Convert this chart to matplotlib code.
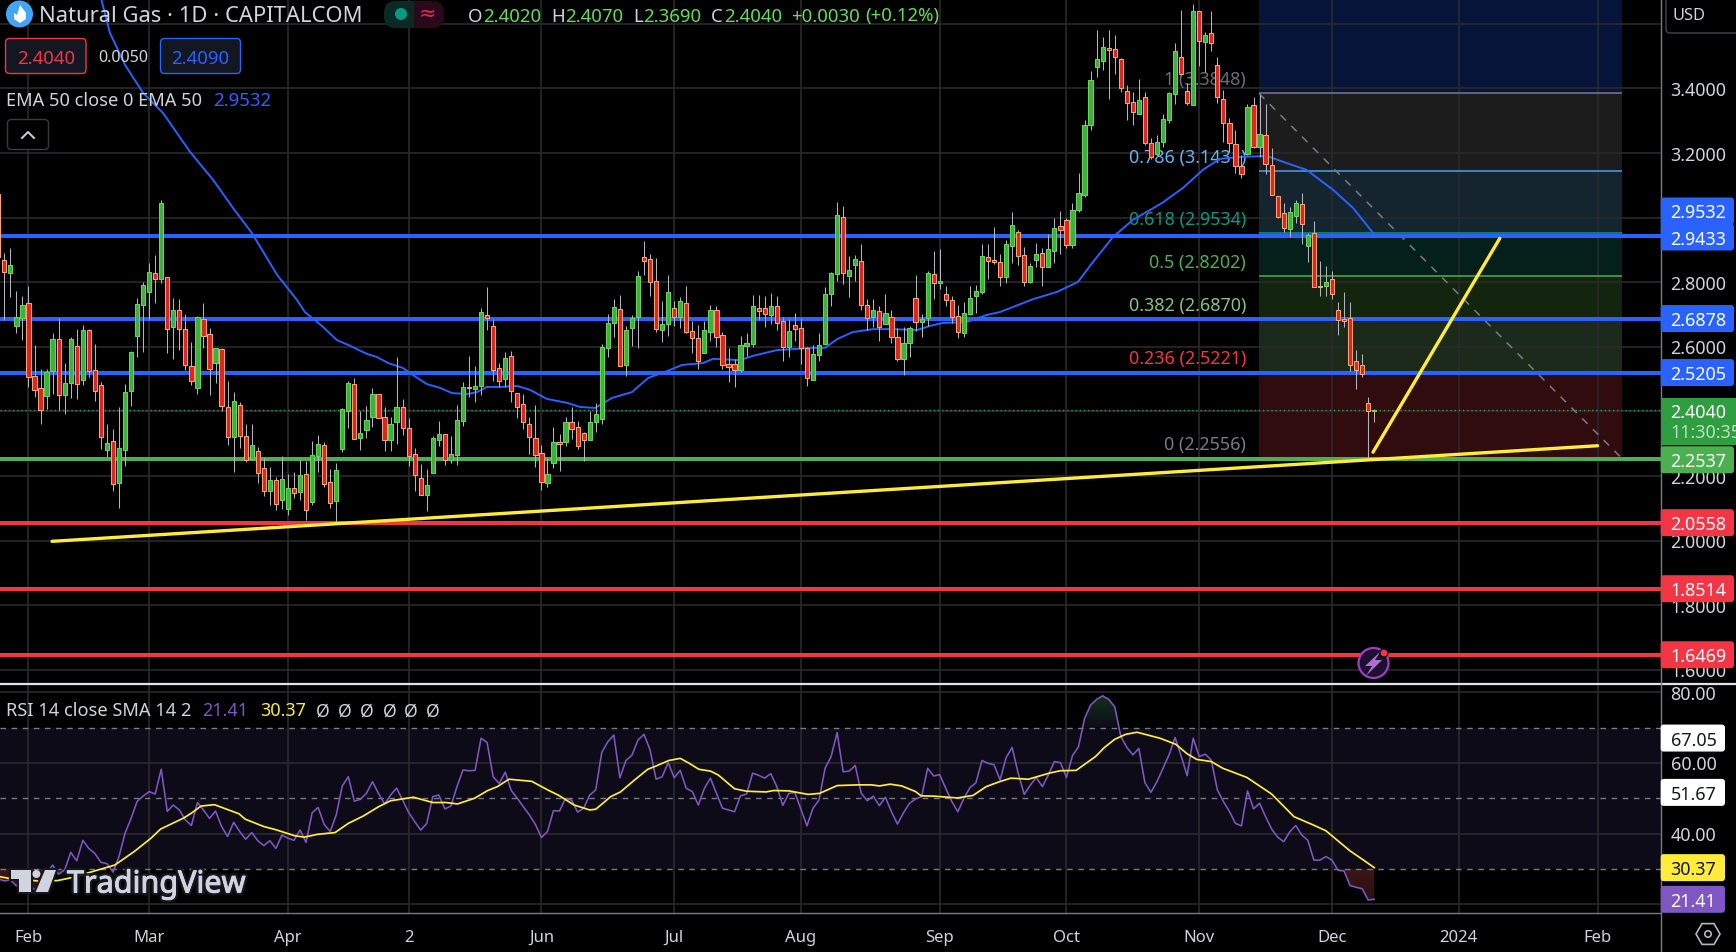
import numpy as np
import matplotlib
matplotlib.use("Agg")
import matplotlib.pyplot as plt
from matplotlib.patches import FancyBboxPatch, Circle, Polygon, Rectangle
import matplotlib.patheffects as pe

plt.rcParams['font.family'] = ['Noto Sans', 'DejaVu Sans']

# candles, one value per bar
opens = [3.073,
 2.868,2.830,2.666,2.688,2.735,2.509,2.472,2.449,2.526,2.624,
 2.452,2.489,2.602,2.496,2.651,2.528,2.481,2.282,2.308,2.180,
 2.282,2.462,2.635,2.731,2.771,2.828,2.809,2.816,2.663,2.713,
 2.655,2.540,2.474,2.686,2.639,2.551,2.593,2.413,2.322,2.419,
 2.323,2.254,2.277,2.224,2.155,2.187,2.127,2.099,2.162,2.152,
 2.206,2.121,2.263,2.295,2.181,2.124,2.285,2.400,2.484,2.319,
 2.344,2.384,2.453,2.382,2.313,2.366,2.413,2.348,2.268,2.193,
 2.143,2.211,2.313,2.330,2.251,2.266,2.372,2.476,2.470,2.480,
 2.698,2.664,2.534,2.500,2.571,2.457,2.422,2.361,2.317,2.271,
 2.180,2.242,2.305,2.304,2.367,2.351,2.333,2.313,2.366,2.378,
 2.598,2.675,2.717,2.545,2.657,2.694,2.878,2.871,2.803,2.651,
 2.672,2.720,2.694,2.735,2.648,2.627,2.582,2.647,2.713,2.636,
 2.546,2.546,2.527,2.604,2.610,2.720,2.720,2.700,2.726,2.679,
 2.601,2.667,2.658,2.596,2.499,2.576,2.610,2.765,2.825,3.001,
 2.821,2.852,2.865,2.729,2.692,2.710,2.672,2.692,2.630,2.564,
 2.613,2.751,2.678,2.691,2.825,2.797,2.763,2.744,2.695,2.644,
 2.703,2.759,2.771,2.878,2.868,2.862,2.817,2.913,2.955,2.883,
 2.801,2.869,2.890,2.848,2.898,2.973,2.992,2.917,3.025,3.071,
 3.286,3.468,3.486,3.524,3.521,3.490,3.391,3.357,3.322,3.373,
 3.230,3.198,3.235,3.304,3.384,3.496,3.391,3.350,3.639,3.545,
 3.571,3.472,3.366,3.292,3.227,3.159,3.196,3.348,3.220,3.255,
 3.162,3.066,3.014,2.966,3.006,3.041,2.913,2.952,2.790,2.790,
 2.809,2.713,2.686,2.689,2.556,2.543,2.425,2.402]
closes = [2.878,
 2.833,2.853,2.692,2.729,2.508,2.465,2.406,2.521,2.624,2.452,
 2.487,2.624,2.486,2.651,2.524,2.462,2.322,2.302,2.174,2.286,
 2.460,2.583,2.732,2.791,2.831,2.811,3.045,2.655,2.713,2.654,
 2.545,2.493,2.693,2.635,2.533,2.596,2.418,2.322,2.432,2.325,
 2.251,2.295,2.211,2.155,2.187,2.115,2.190,2.162,2.147,2.203,
 2.096,2.264,2.299,2.174,2.118,2.218,2.407,2.487,2.316,2.333,
 2.373,2.453,2.381,2.313,2.360,2.413,2.350,2.263,2.202,2.143,
 2.172,2.317,2.330,2.251,2.268,2.373,2.475,2.473,2.478,2.707,
 2.688,2.530,2.493,2.565,2.462,2.415,2.367,2.322,2.264,2.181,
 2.206,2.305,2.299,2.367,2.347,2.294,2.313,2.367,2.392,2.599,
 2.673,2.723,2.542,2.652,2.689,2.819,2.867,2.802,2.654,2.670,
 2.769,2.694,2.741,2.647,2.629,2.555,2.652,2.713,2.632,2.545,
 2.539,2.527,2.605,2.611,2.726,2.712,2.702,2.726,2.675,2.599,
 2.648,2.654,2.598,2.505,2.577,2.605,2.763,2.828,3.008,2.830,
 2.837,2.871,2.731,2.688,2.713,2.663,2.704,2.630,2.561,2.611,
 2.658,2.678,2.686,2.828,2.797,2.803,2.746,2.694,2.647,2.704,
 2.751,2.772,2.881,2.867,2.864,2.815,2.918,2.976,2.882,2.802,
 2.849,2.887,2.848,2.902,2.967,2.963,2.917,3.023,3.075,3.286,
 3.425,3.490,3.527,3.518,3.496,3.401,3.354,3.328,3.363,3.230,
 3.187,3.233,3.305,3.385,3.515,3.444,3.356,3.639,3.548,3.565,
 3.540,3.373,3.294,3.232,3.159,3.136,3.342,3.220,3.258,3.165,
 3.071,3.003,2.969,3.017,3.044,2.979,2.945,2.784,2.784,2.800,
 2.765,2.684,2.679,2.545,2.530,2.517,2.400,2.404]
highs = [3.090,
 2.890,2.905,2.773,2.757,2.789,2.606,2.532,2.532,2.642,2.690,
 2.549,2.632,2.655,2.667,2.655,2.609,2.490,2.361,2.345,2.413,
 2.484,2.586,2.752,2.801,2.859,2.885,3.055,2.816,2.752,2.748,
 2.701,2.614,2.696,2.735,2.659,2.598,2.596,2.494,2.460,2.430,
 2.361,2.361,2.291,2.257,2.229,2.196,2.262,2.207,2.214,2.250,
 2.247,2.308,2.327,2.306,2.222,2.241,2.411,2.494,2.504,2.403,
 2.417,2.473,2.453,2.415,2.384,2.568,2.439,2.379,2.288,2.238,
 2.222,2.324,2.371,2.330,2.324,2.420,2.491,2.572,2.541,2.721,
 2.785,2.686,2.549,2.585,2.587,2.457,2.454,2.383,2.419,2.296,
 2.255,2.352,2.330,2.382,2.414,2.371,2.336,2.400,2.426,2.609,
 2.701,2.748,2.760,2.665,2.699,2.834,2.928,2.888,2.874,2.742,
 2.822,2.742,2.755,2.788,2.680,2.668,2.680,2.730,2.727,2.645,
 2.597,2.562,2.634,2.643,2.760,2.760,2.758,2.766,2.758,2.693,
 2.686,2.704,2.689,2.600,2.606,2.643,2.786,2.832,3.049,3.035,
 2.882,2.885,2.918,2.749,2.749,2.727,2.764,2.715,2.657,2.662,
 2.666,2.823,2.701,2.835,2.897,2.902,2.789,2.758,2.729,2.738,
 2.788,2.791,2.919,2.918,2.971,2.888,2.931,3.018,2.962,2.910,
 2.859,2.921,2.905,2.949,2.998,3.021,2.998,3.044,3.138,3.302,
 3.454,3.581,3.560,3.581,3.566,3.495,3.411,3.388,3.428,3.388,
 3.246,3.256,3.320,3.390,3.540,3.643,3.416,3.661,3.639,3.574,
 3.639,3.499,3.395,3.309,3.272,3.194,3.351,3.374,3.381,3.352,
 3.215,3.066,3.044,3.032,3.055,3.076,2.952,2.990,2.866,2.851,
 2.835,2.738,2.770,2.739,2.591,2.578,2.445,2.407]
lows = [2.860,
 2.683,2.753,2.644,2.622,2.477,2.446,2.361,2.408,2.454,2.405,
 2.393,2.442,2.439,2.482,2.508,2.433,2.285,2.258,2.155,2.102,
 2.232,2.418,2.570,2.584,2.683,2.737,2.799,2.582,2.564,2.589,
 2.529,2.482,2.454,2.598,2.451,2.489,2.400,2.296,2.213,2.286,
 2.244,2.250,2.178,2.138,2.109,2.095,2.097,2.080,2.133,2.126,
 2.064,2.109,2.213,2.167,2.101,2.059,2.276,2.349,2.316,2.281,
 2.318,2.352,2.379,2.278,2.278,2.300,2.327,2.232,2.154,2.140,
 2.092,2.209,2.293,2.235,2.242,2.235,2.355,2.446,2.430,2.451,
 2.653,2.495,2.477,2.477,2.428,2.381,2.347,2.269,2.229,2.157,
 2.167,2.225,2.217,2.294,2.315,2.285,2.248,2.312,2.338,2.362,
 2.570,2.632,2.542,2.511,2.603,2.598,2.823,2.759,2.647,2.615,
 2.635,2.666,2.659,2.644,2.581,2.532,2.582,2.619,2.601,2.531,
 2.490,2.477,2.523,2.572,2.601,2.684,2.663,2.670,2.651,2.555,
 2.570,2.619,2.548,2.480,2.496,2.557,2.610,2.728,2.804,2.795,
 2.755,2.804,2.715,2.653,2.663,2.619,2.670,2.612,2.555,2.514,
 2.569,2.649,2.632,2.665,2.749,2.780,2.727,2.673,2.626,2.631,
 2.699,2.704,2.764,2.810,2.858,2.787,2.799,2.859,2.854,2.789,
 2.797,2.848,2.790,2.848,2.859,2.888,2.905,2.905,3.019,3.065,
 3.272,3.436,3.457,3.367,3.446,3.388,3.302,3.287,3.322,3.225,
 3.181,3.196,3.220,3.294,3.352,3.442,3.348,3.348,3.470,3.452,
 3.517,3.356,3.233,3.204,3.137,3.124,3.194,3.215,3.189,3.134,
 3.070,2.998,2.956,2.939,2.985,2.918,2.863,2.784,2.759,2.759,
 2.749,2.637,2.663,2.526,2.471,2.508,2.254,2.369]

# EMA 50, read at the bends of the line
ema_bar = [17.1,18.5,21,24,27.3,31.8,35.6,38.9,42,46.2,49.5,50.8,53.8,56.1,58,61.1,62.7,64.6,67,68.7,71,73.2,
           75.2,77.7,79.3,81,83.1,86,88.1,90.9,94.4,96.4,98.9,101.7,105,107.7,110.8,113.3,116.8,118.4,122.9,
           125,129,135,137,139,141.6,145,148.2,152.2,154.4,156.5,160.5,163.8,166,171.5,175.4,178.9,181.4,184.7,
           188,192.8,196.3,199.6,202.4,205.8,210.2,213.5,216.8,221.2,224.5,227.8]
ema_val = [3.674,3.572,3.473,3.386,3.324,3.203,3.117,3.030,2.953,2.823,2.745,2.708,2.662,2.621,2.606,2.578,2.569,
           2.550,2.535,2.513,2.485,2.473,2.457,2.454,2.460,2.476,2.476,2.479,2.467,2.439,2.426,2.414,2.411,2.442,
           2.460,2.504,2.525,2.544,2.550,2.563,2.559,2.572,2.590,2.597,2.597,2.624,2.646,2.655,2.655,2.652,2.665,
           2.674,2.677,2.699,2.708,2.748,2.770,2.801,2.863,2.940,2.993,3.045,3.092,3.148,3.182,3.188,3.191,3.169,
           3.148,3.086,3.030,2.953]

rsi = [27.2,26.6,26.9,25.2,26.9,25.9,24.1,25.9,28.8,31.1,28.5,29.7,34.7,32.3,38.1,35.8,34.4,31.9,31.5,29.1,
       33.5,40.1,44.3,49.1,50.6,51.9,51.2,58.2,46.3,48.1,46.7,43.9,42.3,48.8,46.7,44.3,46.4,42.0,39.2,43.2,
       40.6,38.4,40.3,38.0,36.6,38.0,35.8,39.6,38.7,38.1,41.0,37.5,45.9,47.4,42.6,40.6,45.3,53.5,56.1,49.2,
       49.7,51.4,54.7,51.4,48.4,50.9,52.9,49.5,46.0,43.4,41.0,42.9,50.5,50.9,47.0,47.8,53.3,58.0,57.8,57.9,
       67.0,65.8,56.1,54.2,57.4,52.2,50.0,47.6,45.3,42.6,38.9,40.6,46.5,46.4,50.0,49.5,46.1,47.2,50.9,52.4,
       63.0,66.0,67.9,55.8,60.7,62.2,66.5,68.1,63.7,55.4,56.1,60.1,55.8,57.9,52.8,51.9,48.1,52.8,55.7,51.4,
       47.2,46.7,46.2,50.7,51.2,57.1,56.5,55.7,57.0,53.3,48.0,51.4,51.6,46.9,42.2,47.2,49.5,58.5,61.8,68.6,
       57.5,57.7,59.3,51.4,49.3,50.6,47.9,50.3,46.2,42.7,45.9,48.6,49.8,50.5,58.5,56.3,56.7,52.8,49.1,46.2,
       50.0,53.0,54.4,60.7,59.9,59.5,55.2,61.5,64.4,57.1,51.1,53.7,55.9,53.3,56.6,60.4,60.1,55.9,62.1,64.6,
       72.6,76.4,78.0,79.0,78.0,75.9,67.6,64.4,62.3,64.1,54.4,51.7,54.7,58.5,62.3,67.2,62.0,56.4,67.0,61.8,
       62.5,60.8,52.4,49.1,46.3,42.9,42.2,52.1,47.0,48.6,44.8,41.3,39.0,37.7,40.5,42.3,39.6,38.1,32.5,32.5,
       33.5,32.5,29.6,29.4,25.3,24.8,24.4,21.2,21.41]

rsi_ma_bar = [0.3,2.2,6.6,9.8,12.3,15.5,19.3,22.5,25.3,26.9,30.7,32,33.6,35.8,39.9,40.9,44,46,49.1,50.7,52.9,55.8,
              58,60.5,63,65,68.8,72,74.2,76.1,78.9,81.1,82.7,84.6,88.4,91,92.9,95.4,98,99,101.5,103.1,105.3,107.6,
              108.8,111.1,113,114.5,116.1,118,119.3,122,124,127.2,128.5,131,134.2,136.1,139,142.4,144.7,146,147.8,
              149.7,152,152.9,155.1,158.9,161.5,163.7,165.9,167.8,170.7,174.1,176,178.6,181.8,183.3,185,186.8,188.7,
              192.5,195.1,197,198.6,201,202.9,206.9,211,214.7,218.1,220,224,226.4,228]
rsi_ma_val = [27.8,27.2,26.6,26.7,27.6,29.2,31.1,34.9,38.7,41.3,44.4,45.8,47.8,48.2,45.6,44.1,42,41.1,39.4,39.0,39.8,
              40.3,42.9,45,47.6,49.3,50.3,48.8,48.8,48.4,50,52.2,53.3,55.4,54.8,52.4,50.8,48.1,46.7,46.9,50.5,51.8,
              55,58.2,59,60.7,61.3,59.9,58.2,57.7,56.6,52.7,52,51.8,52.2,52.1,51.1,51.4,53.6,53.8,53.8,53.5,54,53.5,
              51.9,50.7,50.6,50.1,50.8,53.3,54.7,55.7,55.4,57.1,57.8,57.9,61.8,64.4,66.7,68.1,68.7,67,65.3,62.6,61,
              60.4,58.5,55.9,51.2,44.8,42.3,40.8,35.1,32.3,30.37]

time_bars = [5,25,48,68,90,112,133,156,177,199,221,242,265]
time_labels = ['Feb','Mar','Apr','2','Jun','Jul','Aug','Sep','Oct','Nov','Dec','2024','Feb']
price_ticks = [3.6,3.4,3.2,3.0,2.8,2.6,2.4,2.2,2.0,1.8,1.6]
shown_price_ticks = [3.4,3.2,2.8,2.6,2.2,2.0,1.8,1.6]
rsi_ticks = [80,60,40,20]
shown_rsi_ticks = [80,60,40]

blue_levels = [2.9433,2.6878,2.5205]
green_levels = [2.2537]
red_levels = [2.0558,1.8514,1.6469]
last_price = 2.4040

fib_ratio = ['1','0.786','0.618','0.5','0.382','0.236','0']
fib_price = [3.3848,3.1431,2.9534,2.8202,2.6870,2.5221,2.2556]
fib_line_col = ['#787b86','#4f9fe8','#089981','#4caf50','#81c784','#f23645','#787b86']
fib_text_col = ['#6b6e78','#64b5f6','#089981','#4caf50','#81c784','#f23645','#787b86']
fib_fill = ['#1c1c1c','#15252f','#05201a','#13240f','#1c2a1c','#300c0f']
fib_start, fib_end = 208.9, 269

trend_bars = [8.9,265]
trend_vals = [1.998,2.294]
swing_bars = [227.8,248.8]
swing_vals = [2.274,2.936]

W, H = 1736, 952
AX_R = 1660.7
GRID = '#2a2a2c'
TXT = '#d1d4dc'
BLUE = '#2962ff'

fig = plt.figure(figsize=(W/100, H/100), dpi=100, facecolor='black')
ax = fig.add_axes([0, 1-683/H, AX_R/W, 683/H], facecolor='black')
ax2 = fig.add_axes([0, 1-913/H, AX_R/W, 228/H], facecolor='black')
over = fig.add_axes([0, 0, 1, 1], zorder=10)
over.set_xlim(0, W)
over.set_ylim(H, 0)
over.axis('off')

xlim = (0.282, 275.47)
ax.set_xlim(*xlim)
ax.set_ylim(1.5594, 3.674)
ax2.set_xlim(*xlim)
ax2.set_ylim(17.53, 82.07)
for a in (ax, ax2):
    a.axis('off')

# grid
ax.hlines(price_ticks, *xlim, color=GRID, lw=1.2, zorder=1)
ax.vlines(time_bars, 1.5594, 3.674, color=GRID, lw=1.2, zorder=1)
ax2.hlines(rsi_ticks, *xlim, color=GRID, lw=1.2, zorder=1)
ax2.vlines(time_bars, 17.53, 82.07, color=GRID, lw=1.2, zorder=1)

# fib retracement box
ax.fill_between([fib_start, fib_end], fib_price[0], 3.674, color='#051438', lw=0, zorder=0.5)
for i in range(6):
    ax.fill_between([fib_start, fib_end], fib_price[i+1], fib_price[i], color=fib_fill[i], lw=0, zorder=0.5)
for i in range(7):
    ax.hlines(fib_price[i], fib_start, fib_end, color=fib_line_col[i], lw=1.1, zorder=1.2)
    ax.annotate('%s (%.4f)' % (fib_ratio[i], fib_price[i]), xy=(fib_start, fib_price[i]), xytext=(-13, 13),
                textcoords='offset pixels', ha='right', va='center', color=fib_text_col[i], fontsize=12.9, zorder=1.5)
ax.plot([fib_start, fib_end], [fib_price[0], fib_price[-1]], color='#787b86', lw=1.1, ls=(0, (5, 5)), zorder=1.3)

ax.hlines(last_price, *xlim, color='#2e9e40', lw=1, ls=(0, (1, 2)), zorder=2)
ax.hlines(blue_levels, *xlim, color=BLUE, lw=2.9, zorder=2.2)
ax.hlines(green_levels, *xlim, color='#4caf50', lw=2.9, zorder=2.2)
ax.hlines(red_levels, *xlim, color='#f23645', lw=2.9, zorder=2.2)
ax.plot(ema_bar, ema_val, color=BLUE, lw=1.4, zorder=2.5)

# candles
bars = np.arange(len(opens))
o = np.array(opens)
c = np.array(closes)
up = c >= o
ax.vlines(bars, lows, highs, color='#b2b5be', lw=0.75, zorder=3)
ax.bar(bars[up], np.maximum(c-o, 0.004)[up], bottom=o[up], width=0.7, color='#3db13c', edgecolor='#69d45c', lw=0.75, zorder=4)
ax.bar(bars[~up], np.maximum(o-c, 0.004)[~up], bottom=c[~up], width=0.7, color='#e0241c', edgecolor='#f9a478', lw=0.75, zorder=4)

# yellow trendlines
ax.plot(trend_bars, trend_vals, color='#ffeb3b', lw=2.4, solid_capstyle='round', zorder=5)
ax.plot(swing_bars, swing_vals, color='#ffeb3b', lw=2.4, solid_capstyle='round', zorder=5)

# rsi pane
ax2.fill_between(xlim, 30, 70, color='#0d0b17', lw=0, zorder=0.5)
ax2.hlines([70, 50, 30], *xlim, color='#787b86', lw=1, ls=(0, (4, 4)), zorder=1.5)
rsi_bars = np.arange(len(rsi))
rsi_arr = np.array(rsi)

grad = np.linspace(0, 1, 64).reshape(-1, 1)
hi_cmap = matplotlib.colors.LinearSegmentedColormap.from_list('g', ['#0d0b17', '#14351a'])
lo_cmap = matplotlib.colors.LinearSegmentedColormap.from_list('r', ['#2c0e0e', '#3c1616'])
hi_fill = ax2.fill_between(rsi_bars, 70, rsi_arr, where=rsi_arr >= 70, interpolate=True, color='none', lw=0)
for path in hi_fill.get_paths():
    im = ax2.imshow(grad, extent=(0, 229, 70, 80), origin='lower', aspect='auto', zorder=1.2, vmin=0, vmax=1, cmap=hi_cmap)
    im.set_clip_path(path, transform=ax2.transData)
lo_fill = ax2.fill_between(rsi_bars, 30, rsi_arr, where=rsi_arr <= 30, interpolate=True, color='none', lw=0)
for path in lo_fill.get_paths():
    im = ax2.imshow(grad, extent=(0, 229, 20, 30), origin='lower', aspect='auto', zorder=1.2, vmin=0, vmax=1, cmap=lo_cmap)
    im.set_clip_path(path, transform=ax2.transData)
ax2.set_xlim(*xlim)
ax2.set_ylim(17.53, 82.07)

ax2.plot(rsi_bars, rsi, color='#7e57c2', lw=1.15, zorder=3)
ax2.plot(rsi_ma_bar, rsi_ma_val, color='#ffeb3b', lw=1.25, zorder=3.2)


def px_y(axis, val):
    return H - axis.transData.transform((1, val))[1]


def tag(y, text, bg, fg, right=1734, h=27):
    over.add_patch(FancyBboxPatch((AX_R, y-h/2), right-AX_R, h, boxstyle='round,pad=0,rounding_size=3',
                                  fc=bg, ec='none', zorder=6))
    over.text(1670.5, y, text, color=fg, fontsize=12.9, ha='left', va='center', zorder=7)


# frame lines
over.plot([0, W], [684, 684], color='#e0e3eb', lw=1.6, zorder=2)
over.plot([0, AX_R], [913, 913], color='#787b86', lw=1, zorder=2)
over.plot([AX_R, AX_R], [0, H], color='#787b86', lw=1, zorder=2)

# price scale
for v in shown_price_ticks:
    over.text(1670.5, px_y(ax, v), '%.4f' % v, color=TXT, fontsize=12.9, ha='left', va='center', zorder=3)
for v in shown_rsi_ticks:
    over.text(1670.5, px_y(ax2, v), '%.2f' % v, color=TXT, fontsize=12.9, ha='left', va='center', zorder=3)
over.add_patch(FancyBboxPatch((1666, -10), 80, 43, boxstyle='round,pad=0,rounding_size=4', fc='black', ec='#434651', lw=1))
over.text(1672, 14, 'USD', color=TXT, fontsize=11.8, ha='left', va='center')

tag(211, '2.9532', BLUE, 'white')
tag(px_y(ax, blue_levels[0]) + 1, '%.4f' % blue_levels[0], BLUE, 'white')
tag(px_y(ax, blue_levels[1]), '%.4f' % blue_levels[1], BLUE, 'white')
tag(px_y(ax, blue_levels[2]), '%.4f' % blue_levels[2], BLUE, 'white')
over.add_patch(Rectangle((AX_R, 397.5), W-AX_R, 47.5, fc='#2e9e40', ec='none', zorder=6))
over.text(1670.5, 410.5, '2.4040', color='white', fontsize=12.9, ha='left', va='center', zorder=7)
over.text(1670.5, 431, '11:30:35', color='#b9e2bf', fontsize=12.9, ha='left', va='center', zorder=7)
tag(px_y(ax, green_levels[0]) + 1, '%.4f' % green_levels[0], '#4caf50', 'white')
for v in red_levels:
    tag(px_y(ax, v), '%.4f' % v, '#f23645', 'white')

tag(px_y(ax2, 67.05), '67.05', 'white', '#131722', right=1725)
tag(px_y(ax2, 51.67), '51.67', 'white', '#131722', right=1725)
tag(px_y(ax2, 30.37), '30.37', '#ffeb3b', '#131722', right=1725)
tag(px_y(ax2, 21.41), '21.41', '#7e57c2', 'white', right=1725)

# time scale
for b, lab in zip(time_bars, time_labels):
    x = ax.transData.transform((b, 2))[0]
    over.text(x, 935, lab, color=TXT, fontsize=12, ha='center', va='center',
              fontweight='bold' if lab == '2024' else 'normal')

# gear hexagon
t = np.deg2rad(np.arange(6)*60 + 30 + 30)
over.add_patch(Polygon(np.c_[1708+12*np.cos(t), 934+12*np.sin(t)], closed=True, fc='none', ec='#b2b5be', lw=1.2))
over.add_patch(Circle((1708, 934), 3.2, fc='none', ec='#b2b5be', lw=1.2))

# header
over.add_patch(Circle((19.5, 14), 13.5, fc='#42a5f5', ec='none'))
over.add_patch(Polygon([(20, 5), (26, 13), (26, 19), (20, 23), (14, 19), (14, 13), (17, 15)], closed=True, fc='white', ec='none'))
over.text(39, 14, 'Natural Gas · 1D · CAPITALCOM', color=TXT, fontsize=15.85, ha='left', va='center')

over.add_patch(FancyBboxPatch((384, 1), 40, 27, boxstyle='round,pad=0,rounding_size=12', fc='#0a2a27', ec='none'))
over.add_patch(FancyBboxPatch((414, 1), 30, 27, boxstyle='round,pad=0,rounding_size=12', fc='#2a0a1a', ec='none'))
over.add_patch(Rectangle((414, 1), 10, 27, fc='#2a0a1a', ec='none'))
over.add_patch(Circle((401, 14), 6, fc='#089981', ec='none'))
over.text(428, 11.5, '≈', color='#e91e63', fontsize=15, ha='center', va='center')

GREEN_TXT = '#66dd55'
for x, s, col in [(468, 'O', TXT), (483, '2.4020', GREEN_TXT), (551, 'H', TXT), (565, '2.4070', GREEN_TXT),
                  (633, 'L', TXT), (643.5, '2.3690', GREEN_TXT), (710.5, 'C', TXT), (724, '2.4040', GREEN_TXT),
                  (791.5, '+0.0030', GREEN_TXT), (865.5, '(+0.12%)', GREEN_TXT)]:
    over.text(x, 14, s, color=col, fontsize=13.4, ha='left', va='center')

over.add_patch(FancyBboxPatch((5.5, 38.5), 80.5, 35, boxstyle='round,pad=0,rounding_size=4', fc='#131722', ec='#f23645', lw=1))
over.text(46, 56, '2.4040', color='#f23645', fontsize=13.4, ha='center', va='center')
over.text(123, 56, '0.0050', color=TXT, fontsize=11.6, ha='center', va='center')
over.add_patch(FancyBboxPatch((160.5, 38.5), 80, 35, boxstyle='round,pad=0,rounding_size=4', fc='#131722', ec=BLUE, lw=1))
over.text(200.5, 56, '2.4090', color=BLUE, fontsize=13.4, ha='center', va='center')

over.text(6.5, 98, 'EMA 50 close 0 EMA 50', color=TXT, fontsize=13.15, ha='left', va='center')
over.text(213.5, 98, '2.9532', color=BLUE, fontsize=13.4, ha='left', va='center')
over.add_patch(FancyBboxPatch((7.5, 119.5), 41, 30, boxstyle='round,pad=0,rounding_size=4', fc='black', ec='#363a45', lw=1))
over.plot([22, 28, 34], [138, 132, 138], color=TXT, lw=1.4)

# rsi legend
over.text(6, 709, 'RSI 14 close SMA 14 2', color=TXT, fontsize=13.15, ha='left', va='center')
over.text(202.5, 709, '21.41', color='#7e57c2', fontsize=13, ha='left', va='center')
over.text(260, 709, '30.37', color='#ffeb3b', fontsize=13, ha='left', va='center')
for x in [323, 345, 367, 390, 411, 433]:
    over.text(x, 709, 'Ø', color=TXT, fontsize=12.6, ha='center', va='center')

# bolt badge
over.add_patch(Circle((1373.5, 663), 15, fc='#1c1230', ec='#9c3fc0', lw=1.6, zorder=8))
over.add_patch(Polygon([(1381, 651), (1365, 666), (1372, 666), (1366, 676), (1382, 660), (1375, 660)], closed=True, fc='#b06ccf', ec='none', zorder=9))
over.add_patch(Circle((1384, 653), 4, fc='#f23645', ec='black', lw=0.8, zorder=9))

# watermark
LOGO = '#d1d4dc'
for poly in ([(10.7, 870), (30.6, 870), (30.6, 892), (19, 892), (19, 879), (10.7, 879)],
             [(45, 870), (56, 870), (48, 892), (35.6, 892)]):
    p = Polygon(poly, closed=True, fc=LOGO, ec='none', zorder=8)
    p.set_path_effects([pe.withStroke(linewidth=3, foreground='#131722')])
    over.add_patch(p)
over.add_patch(Circle((36.4, 874), 4, fc=LOGO, ec='none', zorder=8))
over.text(67, 882, 'TradingView', color=LOGO, fontsize=22, ha='left', va='center',
          path_effects=[pe.withStroke(linewidth=4, foreground='#131722'), pe.withStroke(linewidth=0.7, foreground=LOGO)],
          zorder=8)

# noto sans sits a little high with va=center
for txt in over.texts:
    x, y = txt.get_position()
    txt.set_position((x, y + 2.5))

fig.savefig('out.png', dpi=100, facecolor='black')
